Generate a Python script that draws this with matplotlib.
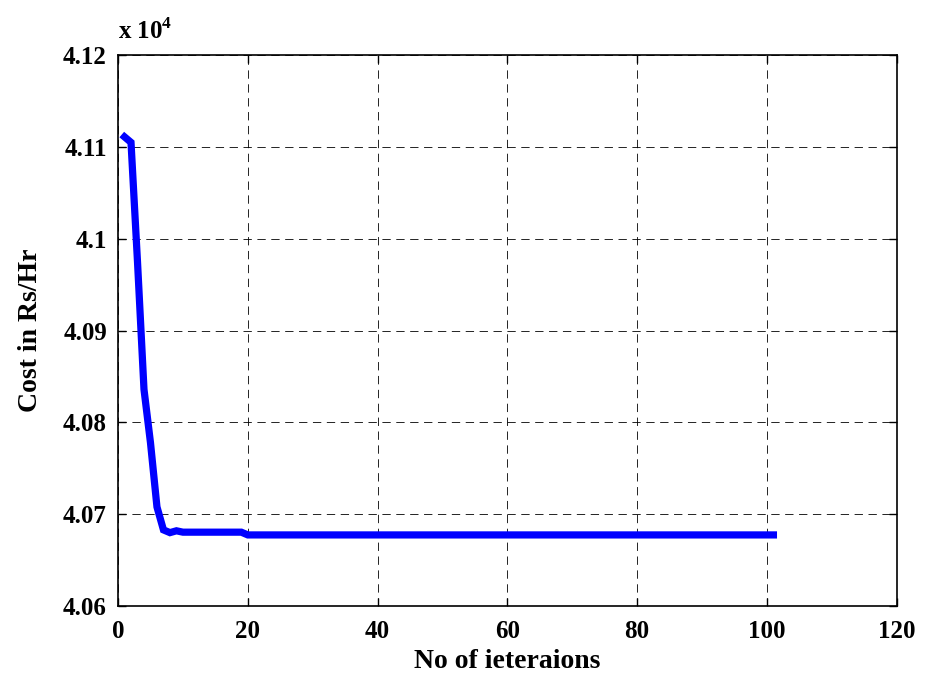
import matplotlib.pyplot as plt
import numpy as np
from matplotlib.ticker import FuncFormatter

plt.rcParams['font.family'] = ['Liberation Serif', 'DejaVu Serif']
plt.rcParams['font.weight'] = 'bold'
plt.rcParams['mathtext.fontset'] = 'custom'
plt.rcParams['mathtext.rm'] = 'Liberation Serif:bold'
plt.rcParams['mathtext.bf'] = 'Liberation Serif:bold'
plt.rcParams['lines.scale_dashes'] = False

# cost per iteration (Rs/Hr)
iterations = np.arange(1, 102)
cost_start = [41111, 41105, 40975, 40836, 40778, 40708, 40683, 40680, 40682, 40680.5]
cost_mid = [40680.5] * 9      # iterations 11-19
cost_end = [40677.5] * 82     # iterations 20-101
cost = np.array(cost_start + cost_mid + cost_end)

fig = plt.figure(figsize=(9.25, 6.81), dpi=100)
ax = fig.add_axes([0.1276, 0.11, 0.8418, 0.809])

ax.plot(iterations, cost / 1e4, color=(0, 0, 1), lw=5.2, solid_joinstyle='miter')

ax.set_xlim(0, 120)
ax.set_ylim(4.06, 4.12)
ax.set_xticks(np.arange(0, 121, 20))
ax.set_yticks(np.arange(4.06, 4.1201, 0.01))
ax.yaxis.set_major_formatter(FuncFormatter(lambda v, p: '%g' % round(v, 2)))

ax.grid(True, color='k', ls=(0, (6, 4)), lw=0.6)
ax.tick_params(direction='in', top=True, right=True, length=6, width=1,
               labelsize=18)
ax.tick_params(axis='x', pad=10)
ax.tick_params(axis='y', pad=8)
for s in ax.spines.values():
    s.set_linewidth(1.2)

ax.set_xlabel('No of ieteraions', fontsize=20, fontweight='bold', labelpad=4)
ax.set_ylabel('Cost in Rs/Hr', fontsize=20, fontweight='bold', labelpad=14)
ax.text(0.0, 1.02, r'x 10$^{4}$', transform=ax.transAxes, fontsize=18,
        fontweight='bold', ha='left', va='bottom')

fig.savefig('out.png', dpi=100)
